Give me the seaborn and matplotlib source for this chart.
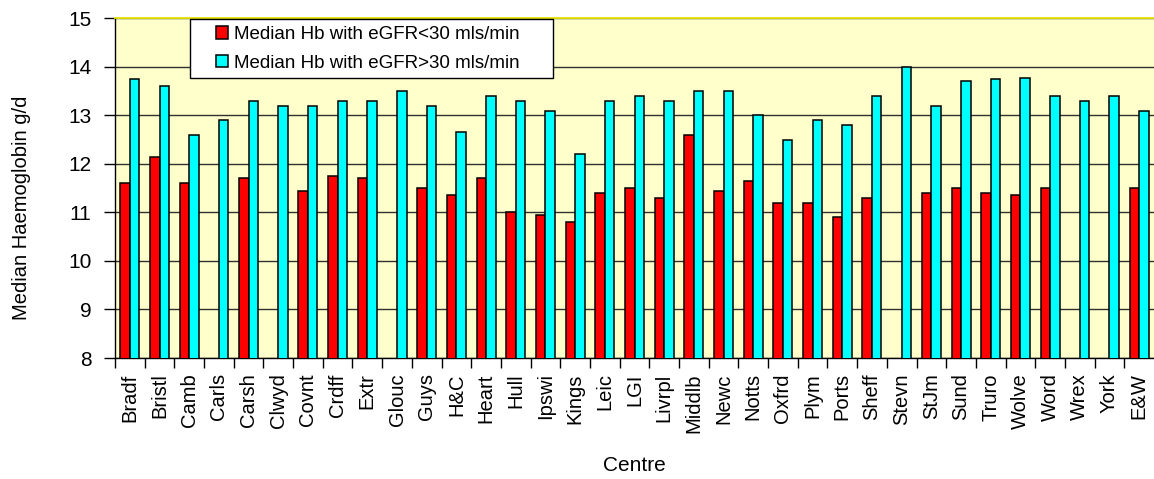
import numpy as np
import pandas as pd
import matplotlib
matplotlib.use("Agg")
import matplotlib.pyplot as plt
import matplotlib.patches as mpatches
from matplotlib.legend_handler import HandlerPatch
import seaborn as sns

centres = ["Bradf", "Bristl", "Camb", "Carls", "Carsh", "Clwyd", "Covnt", "Crdff",
           "Extr", "Glouc", "Guys", "H&C", "Heart", "Hull", "Ipswi", "Kings",
           "Leic", "LGI", "Livrpl", "Middlb", "Newc", "Notts", "Oxfrd", "Plym",
           "Ports", "Sheff", "Stevn", "StJm", "Sund", "Truro", "Wolve", "Word",
           "Wrex", "York", "E&W"]

hb_low = [11.6, 12.15, 11.6, np.nan, 11.7, np.nan, 11.45, 11.75,
          11.7, np.nan, 11.5, 11.35, 11.7, 11.0, 10.95, 10.8,
          11.4, 11.5, 11.3, 12.6, 11.45, 11.65, 11.2, 11.2,
          10.9, 11.3, np.nan, 11.4, 11.5, 11.4, 11.35, 11.5,
          np.nan, np.nan, 11.5]

hb_high = [13.75, 13.6, 12.6, 12.9, 13.3, 13.2, 13.2, 13.3,
           13.3, 13.5, 13.2, 12.65, 13.4, 13.3, 13.1, 12.2,
           13.3, 13.4, 13.3, 13.5, 13.5, 13.0, 12.5, 12.9,
           12.8, 13.4, 14.0, 13.2, 13.7, 13.75, 13.78, 13.4,
           13.3, 13.4, 13.1]

series_names = ["Median Hb with eGFR<30 mls/min", "Median Hb with eGFR>30 mls/min"]
series_colors = ["#FF0000", "#00FFFF"]
y_ticks = [8, 9, 10, 11, 12, 13, 14, 15]

df = pd.DataFrame({
    "Centre": centres * 2,
    "Hb": hb_low + hb_high,
    "Series": [series_names[0]] * len(centres) + [series_names[1]] * len(centres),
})

sns.set_style("white")
plt.rcParams["font.family"] = ["Liberation Sans", "DejaVu Sans"]
plt.rcParams["text.color"] = "black"
plt.rcParams["axes.labelcolor"] = "black"
plt.rcParams["xtick.color"] = "black"
plt.rcParams["ytick.color"] = "black"

W, H = 1154, 479
fig = plt.figure(figsize=(W / 100, H / 100), dpi=100)
ax = fig.add_axes([115 / W, 1 - 358 / H, 1 - 115 / W, (358 - 18.3) / H])
ax.set_facecolor("#FFFFCC")

sns.barplot(data=df, x="Centre", y="Hb", hue="Series", order=centres,
            hue_order=series_names, palette=series_colors, saturation=1,
            width=0.64, edgecolor="black", linewidth=1.1, ax=ax, zorder=3,
            legend=True)

ax.set_ylim(8, 15)
ax.set_yticks(y_ticks)
ax.set_xlim(-0.5, len(centres) - 0.5)
ax.yaxis.grid(True, color="#303030", linewidth=1.0, zorder=0)
ax.set_axisbelow(True)

ax.set_xticks(range(len(centres)))
ax.set_xticklabels(centres, rotation=90, fontsize=14.5, color="black")
ax.set_xticks(np.arange(len(centres)) - 0.5, minor=True)
ax.tick_params(axis="x", which="major", length=0, pad=11)
ax.tick_params(axis="x", which="minor", length=7, width=1, color="black",
               direction="out", bottom=True)
ax.tick_params(axis="y", length=8, width=1, color="black", labelcolor="black",
               direction="out", left=True, labelsize=15, pad=9)

for s in ["left", "bottom"]:
    ax.spines[s].set_color("black")
    ax.spines[s].set_linewidth(1)
ax.spines["top"].set_visible(True)
ax.spines["top"].set_color("#E6E600")
ax.spines["top"].set_linewidth(1.3)
ax.spines["right"].set_visible(False)

ax.set_xlabel("Centre", fontsize=15, color="black")
ax.set_ylabel("Median Haemoglobin g/d", fontsize=14.5, color="black")
ax.xaxis.set_label_coords(0.5, -(456 - 358) / (358 - 18.3))
ax.yaxis.set_label_coords(-(115 - 31) / (W - 115), (358 - 207.5) / (358 - 18.3))


def square_handle(legend, orig_handle, xdescent, ydescent, width, height, fontsize):
    s = 0.66 * fontsize
    return mpatches.Rectangle((-xdescent + width - s, -ydescent + (height - s) / 2), s, s)


handles, labels = ax.get_legend_handles_labels()
leg = ax.legend(handles, labels, loc="upper left",
                bbox_to_anchor=(190 / W, 1 - 76.7 / H, 363 / W, 57.4 / H),
                bbox_transform=fig.transFigure, mode="expand", borderaxespad=0,
                prop={"family": "Liberation Sans", "size": 13.5},
                frameon=True, fancybox=False, framealpha=1, edgecolor="black",
                handlelength=1.7, handleheight=0.7, handletextpad=0.3,
                borderpad=0.35, labelspacing=0.62,
                handler_map={mpatches.Rectangle: HandlerPatch(patch_func=square_handle)})
leg.get_frame().set_linewidth(1)
leg.set_zorder(10)
for t in leg.get_texts():
    t.set_color("black")

fig.savefig("out.png", dpi=100, facecolor="white")
